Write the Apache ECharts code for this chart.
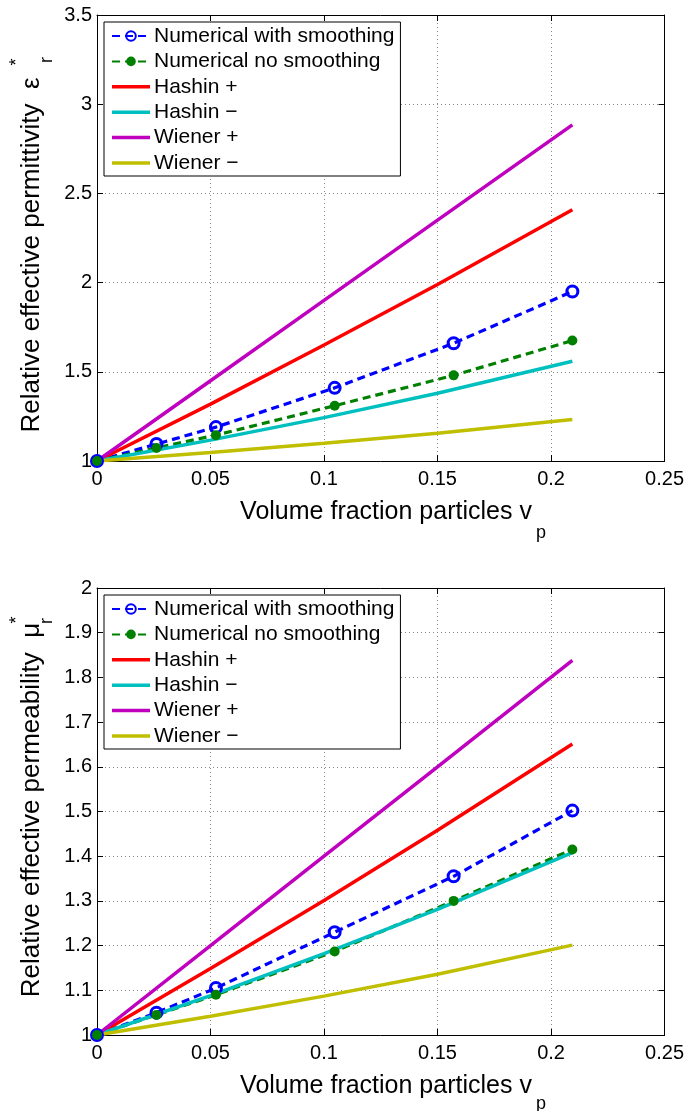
<!DOCTYPE html>
<html>
<head>
<meta charset="utf-8">
<script src="https://cdn.jsdelivr.net/npm/echarts@6/dist/echarts.min.js"></script>
<style>
html,body{margin:0;padding:0;background:#fff;}
#c{width:687px;height:1111px;}
</style>
</head>
<body>
<div id="c"></div>
<script>
// ---------- data ----------
const xNum = [0, 0.0262, 0.0524, 0.1047, 0.1571, 0.2094];
const xLine = [0, 0.05, 0.1, 0.15, 0.2094];

const epsSmooth   = [1, 1.095, 1.19, 1.41, 1.66, 1.95];
const epsNoSmooth = [1, 1.073, 1.145, 1.31, 1.48, 1.675];
const epsHashinPlus  = [1, 1.319, 1.65, 1.989, 2.408];
const epsHashinMinus = [1, 1.117, 1.243, 1.380, 1.559];
const epsWienerPlus  = [1, 1.45, 1.90, 2.35, 2.884];
const epsWienerMinus = [1, 1.047, 1.099, 1.156, 1.232];

const muSmooth   = [1, 1.05, 1.105, 1.23, 1.355, 1.502];
const muNoSmooth = [1, 1.045, 1.09, 1.187, 1.30, 1.415];
const muHashinPlus  = [1, 1.149, 1.301, 1.458, 1.651];
const muHashinMinus = [1, 1.088, 1.182, 1.281, 1.408];
const muWienerPlus  = [1, 1.2, 1.4, 1.6, 1.838];
const muWienerMinus = [1, 1.042, 1.087, 1.136, 1.201];

const seriesNames = ['Numerical with smoothing','Numerical no smoothing','Hashin +','Hashin \u2212','Wiener +','Wiener \u2212'];
const xTicks = [0, 0.25, 0.05];        // min, max, interval
const yTicksTop = [1, 3.5, 0.5];
const yTicksBottom = [1, 2, 0.1];

// ---------- styling ----------
const FONT = 'Liberation Sans, Arial, Helvetica, sans-serif';
const colors = ['#0000ff', '#008000', '#ff0000', '#00bfbf', '#bf00bf', '#bfbf00'];
const pair = (xs, ys) => xs.map((x, i) => [x, ys[i]]);

function xAxes(g) {
  const base = {
    gridIndex: g, type: 'value', min: xTicks[0], max: xTicks[1], interval: xTicks[2],
    axisLine: {show: true, onZero: false, lineStyle: {color: '#000', width: 1}},
    axisTick: {show: true, inside: true, length: 6, lineStyle: {color: '#000'}}
  };
  return [
    Object.assign({}, base, {
      position: 'bottom',
      axisLabel: {show: true, fontSize: 20, fontFamily: FONT, color: '#000', margin: 8},
      splitLine: {show: true, lineStyle: {color: '#8a8a8a', type: [1, 3], width: 1}}
    }),
    Object.assign({}, base, {position: 'top', axisLabel: {show: false}, splitLine: {show: false}})
  ];
}
function yAxes(g, t) {
  const base = {
    gridIndex: g, type: 'value', min: t[0], max: t[1], interval: t[2],
    axisLine: {show: true, onZero: false, lineStyle: {color: '#000', width: 1}},
    axisTick: {show: true, inside: true, length: 6, lineStyle: {color: '#000'}}
  };
  return [
    Object.assign({}, base, {
      position: 'left',
      axisLabel: {show: true, fontSize: 20, fontFamily: FONT, color: '#000', margin: 5},
      splitLine: {show: true, lineStyle: {color: '#8a8a8a', type: [1, 3], width: 1}}
    }),
    Object.assign({}, base, {position: 'right', axisLabel: {show: false}, splitLine: {show: false}})
  ];
}

function seriesFor(g, smooth, noSmooth, hp, hm, wp, wm) {
  const xi = g * 2, yi = g * 2;
  const dashed = [8, 5];
  const solid = (i, d) => ({
    name: seriesNames[i], type: 'line', xAxisIndex: xi, yAxisIndex: yi,
    data: pair(xLine, d), symbol: 'none', clip: false,
    lineStyle: {color: colors[i], width: 3.5}, itemStyle: {color: colors[i]},
    animation: false
  });
  return [
    {
      name: seriesNames[0], type: 'line', xAxisIndex: xi, yAxisIndex: yi,
      data: pair(xNum, smooth), symbol: 'circle', symbolSize: 11, clip: false,
      lineStyle: {color: colors[0], width: 3.2, type: dashed},
      itemStyle: {color: 'rgba(255,255,255,0)', borderColor: colors[0], borderWidth: 3},
      animation: false
    },
    {
      name: seriesNames[1], type: 'line', xAxisIndex: xi, yAxisIndex: yi,
      data: pair(xNum, noSmooth), symbol: 'circle', symbolSize: 10, clip: false,
      lineStyle: {color: colors[1], width: 3.2, type: dashed},
      itemStyle: {color: colors[1], borderColor: colors[1], borderWidth: 0},
      animation: false
    },
    solid(2, hp), solid(3, hm), solid(4, wp), solid(5, wm)
  ];
}

const lineIcon = 'path://M0,0H38V3.5H0Z';
function legendAt(top) {
  return {
    orient: 'vertical', left: 104, top: top,
    data: seriesNames.map((n, i) => i < 2 ? {name: n} : {name: n, icon: lineIcon}),
    itemWidth: 38, itemHeight: 12, itemGap: 3.4, symbolKeepAspect: true,
    padding: [3, 6, 2, 7],
    backgroundColor: '#fff', borderColor: '#000', borderWidth: 1, borderRadius: 0,
    textStyle: {fontSize: 21, fontFamily: FONT, color: '#000', lineHeight: 22, padding: [0, 0, 0, -1]},
    selectedMode: false
  };
}

function txt(x, y, text, size, rot, align) {
  return {
    type: 'text', x: x, y: y, rotation: rot || 0, silent: true, z: 100,
    style: {
      text: text, fill: '#000', fontSize: size, fontFamily: FONT,
      align: align || 'center', verticalAlign: 'middle',
      textAlign: align || 'center', textVerticalAlign: 'middle'
    }
  };
}

const R = Math.PI / 2;
const option = {
  backgroundColor: '#fff',
  animation: false,
  grid: [
    {left: 97, top: 15, width: 572, height: 446},
    {left: 97, top: 588, width: 572, height: 447}
  ],
  xAxis: [...xAxes(0), ...xAxes(1)],
  yAxis: [...yAxes(0, yTicksTop), ...yAxes(1, yTicksBottom)],
  legend: [legendAt(22), legendAt(595)],
  series: [
    ...seriesFor(0, epsSmooth, epsNoSmooth, epsHashinPlus, epsHashinMinus, epsWienerPlus, epsWienerMinus),
    ...seriesFor(1, muSmooth, muNoSmooth, muHashinPlus, muHashinMinus, muWienerPlus, muWienerMinus)
  ],
  graphic: [
    txt(386, 512, 'Volume fraction particles v', 25),
    txt(541, 533, 'p', 18),
    txt(386, 1086, 'Volume fraction particles v', 25),
    txt(541, 1104, 'p', 18),
    txt(32, 255, 'Relative effective permittivity  \u03b5', 26, R),
    txt(47, 60, 'r', 18, R),
    txt(17, 62, '*', 18, R),
    txt(32, 810, 'Relative effective permeability  \u03bc', 26, R),
    txt(47, 621, 'r', 18, R),
    txt(17, 620, '*', 18, R)
  ]
};

const chart = echarts.init(document.getElementById('c'), null, {renderer: 'canvas'});
chart.setOption(option);
</script>
</body>
</html>
